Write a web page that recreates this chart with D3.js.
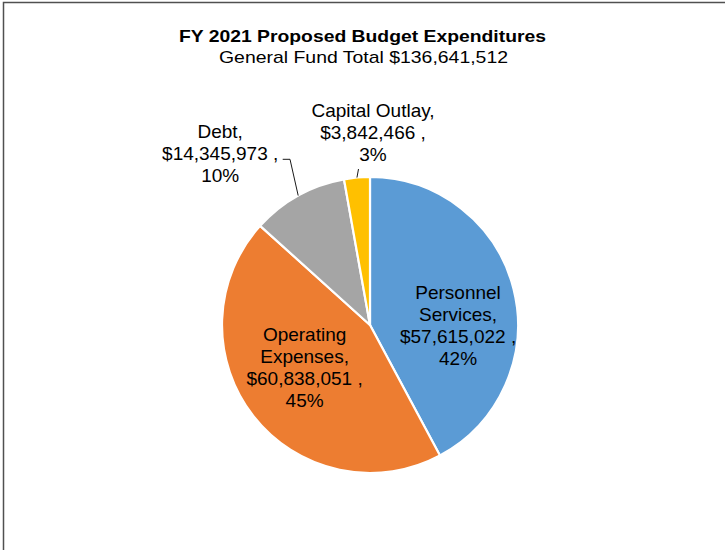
<!DOCTYPE html>
<html>
<head>
<meta charset="utf-8">
<script src="https://cdn.jsdelivr.net/npm/d3@7"></script>
<style>
  html, body { margin: 0; padding: 0; background: #fff; }
  svg { display: block; }
  text { font-family: "Liberation Sans", Arial, sans-serif; fill: #000; }
</style>
</head>
<body>
<svg id="chart" width="725" height="550"></svg>
<script>
// Budget categories and amounts (General Fund, FY 2021)
const categories = ["Personnel Services", "Operating Expenses", "Debt", "Capital Outlay"];
const amounts = [57615022, 60838051, 14345973, 3842466];
const percentLabels = ["42%", "45%", "10%", "3%"];
const sliceColors = ["#5B9BD5", "#ED7D31", "#A5A5A5", "#FFC000"];

// Label text lines per slice (wrapped the way the data labels read)
const labelLines = [
  ["Personnel", "Services,"],
  ["Operating", "Expenses,"],
  ["Debt,"],
  ["Capital Outlay,"]
];

const titleText = "FY 2021 Proposed Budget Expenditures";
const subtitleText = "General Fund Total $136,641,512";

const W = 725, H = 550;
const cx = 370, cy = 325, R = 148;

const svg = d3.select("#chart");

// chart area frame (runs past the right and bottom edges)
svg.append("rect")
  .attr("x", 3.5).attr("y", 2.5)
  .attr("width", W + 10).attr("height", H + 10)
  .attr("fill", "none")
  .attr("stroke", "#505050")
  .attr("stroke-width", 1.5);

// title + subtitle
svg.append("text")
  .attr("x", 362.5).attr("y", 42)
  .attr("text-anchor", "middle")
  .attr("font-weight", "bold")
  .attr("font-size", 17)
  .attr("textLength", 367)
  .attr("lengthAdjust", "spacingAndGlyphs")
  .text(titleText);

svg.append("text")
  .attr("x", 363.5).attr("y", 63)
  .attr("text-anchor", "middle")
  .attr("font-size", 17)
  .attr("textLength", 289)
  .attr("lengthAdjust", "spacingAndGlyphs")
  .text(subtitleText);

const fmt = d3.format("$,");
const data = categories.map((c, i) => ({
  name: c, value: amounts[i], pct: percentLabels[i], color: sliceColors[i], lines: labelLines[i]
}));

const pie = d3.pie().sort(null).value(d => d.value).startAngle(0).endAngle(2 * Math.PI);
const arcs = pie(data);
const arc = d3.arc().innerRadius(0).outerRadius(R);

const g = svg.append("g").attr("transform", `translate(${cx},${cy})`);

g.selectAll("path.slice")
  .data(arcs)
  .enter().append("path")
  .attr("class", "slice")
  .attr("d", arc)
  .attr("fill", d => d.data.color)
  .attr("stroke", "#fff")
  .attr("stroke-width", 2.2)
  .attr("stroke-linejoin", "round");

// label placement: polar offset of each label block's centre from the pie centre
// (angle in degrees clockwise from 12 o'clock, distance in radius units)
const labelPlacement = [
  { ang: 90.6, dist: 0.595 },
  { ang: 236.5, dist: 0.53 },
  { ang: 318.8, dist: 1.537 },
  { ang: 0.9, dist: 1.297 }
];

const lineH = 22;
const fontSize = 19;

arcs.forEach((a, i) => {
  const p = labelPlacement[i];
  const t = p.ang * Math.PI / 180;
  const lx = Math.sin(t) * p.dist * R;
  const ly = -Math.cos(t) * p.dist * R;
  const lines = a.data.lines.concat([fmt(a.data.value) + " ,", a.data.pct]);
  const n = lines.length;
  // vertical centre of the block sits at ly
  const firstBaseline = ly - (n * lineH) / 2 + lineH * 0.78;
  const txt = g.append("text")
    .attr("text-anchor", "middle")
    .attr("font-size", fontSize);
  lines.forEach((ln, k) => {
    txt.append("tspan")
      .attr("x", lx)
      .attr("y", firstBaseline + k * lineH)
      .text(ln);
  });
});

// leader lines for the two small outside slices
function edgePoint(a, frac) {
  const ang = a.startAngle + (a.endAngle - a.startAngle) * frac;
  return [Math.sin(ang) * R, -Math.cos(ang) * R];
}
const debtEdge = edgePoint(arcs[2], 0.5);
const capEdge = edgePoint(arcs[3], 0.5);

g.append("path")
  .attr("d", d3.line()([
    [282.7 - cx, 159.3 - cy],
    [290 - cx, 159.3 - cy],
    debtEdge
  ]))
  .attr("fill", "none")
  .attr("stroke", "#1a1a1a")
  .attr("stroke-width", 1);

g.append("path")
  .attr("d", d3.line()([
    capEdge,
    [358.5 - cx, 169 - cy]
  ]))
  .attr("fill", "none")
  .attr("stroke", "#1a1a1a")
  .attr("stroke-width", 1);
</script>
</body>
</html>
